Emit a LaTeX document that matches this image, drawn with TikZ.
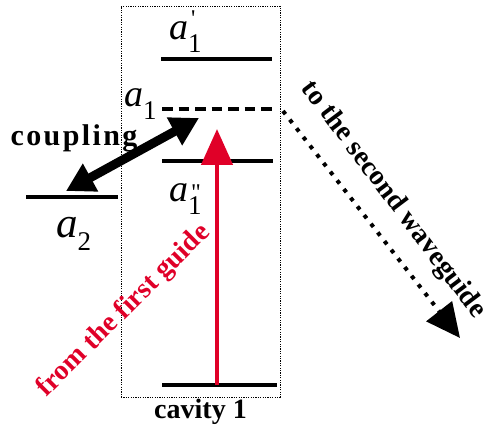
\documentclass[tikz,border=0pt]{standalone}
\usepackage{fontspec}
\setmainfont{Liberation Serif}
\newfontfamily\primefont{Liberation Serif}
\usetikzlibrary{arrows.meta,positioning}
\definecolor{pump}{HTML}{E00028}
\tikzset{
  level/.style={line width=4.5pt},
  dashlevel/.style={line width=4.5pt, dash pattern=on 10.5pt off 6pt},
  cavbox/.style={draw, line width=0.8pt, dash pattern=on 1.2pt off 1.2pt,
                 minimum width=159pt, minimum height=391pt, inner sep=0pt},
  modelbl/.style={inner sep=0pt, anchor=base west, font=\fontsize{38}{38}\selectfont},
  tag/.style={inner sep=0pt, font=\fontsize{28}{30}\selectfont\bfseries},
  pumpflow/.style={-{Triangle[length=36pt,width=31pt]}, line width=4.5pt, pump},
  couple/.style={{Triangle[length=28pt,width=30pt]}-{Triangle[length=28pt,width=30pt]}, line width=9pt},
  outflow/.style={-{Triangle[length=34pt,width=32pt]}, line width=4pt, dash pattern=on 4pt off 7pt},
}
\newcommand{\amode}[3]{\textit{a}\rlap{\kern0.08em\raisebox{#3}{\primefont\fontsize{24}{24}\selectfont#2}}\raisebox{-0.32em}{\fontsize{27}{27}\selectfont#1}}

\begin{document}
\begin{tikzpicture}[x=1pt, y=-1pt, node distance=1pt]
  \useasboundingbox (0,0) rectangle (492,430);
  \node[cavbox] (cav) at (200.5,201.5) {};
  \node[tag, below=of cav] (cavlbl) {cavity 1};

  % energy levels
  \coordinate (up1w) at (161,59);  \coordinate (up1e) at (272,59);
  \coordinate (mid1w) at (162,109); \coordinate (mid1e) at (272,109);
  \coordinate (low1w) at (162,161); \coordinate (low1e) at (273,161);
  \coordinate (lev2w) at (26,197);  \coordinate (lev2e) at (118,197);
  \coordinate (basew) at (162,385); \coordinate (basee) at (277,385);
  \draw[level] (up1w) -- (up1e);
  \draw[dashlevel] (mid1w) -- (mid1e);
  \draw[level] (low1w) -- (low1e);
  \draw[level] (lev2w) -- (lev2e);
  \draw[level] (basew) -- (basee);

  \node[modelbl] (lblup) at (169,40) {\amode{1}{'}{13pt}};
  \node[modelbl] (lblmid) at (124,107) {\amode{1}{}{0pt}};
  \node[modelbl] (lbllow) at (169,202) {\amode{1}{"}{1pt}};
  \node[modelbl, font=\fontsize{43}{43}\selectfont] (lbl2) at (56,237) {\amode{2}{}{0pt}};

  % arrows
  \coordinate (pin) at (217,385); \coordinate (ptip) at (217,129);
  \draw[pumpflow] (pin) -- (ptip);
  \coordinate (cpl2) at (66,191); \coordinate (cpl1) at (199,118);
  \draw[couple] (cpl2) -- (cpl1);
  \coordinate (leak) at (283,111); \coordinate (ltip) at (460,338);
  \draw[outflow] (leak) -- (ltip);

  \node[tag, anchor=base, font=\fontsize{30}{30}\selectfont\bfseries\addfontfeatures{LetterSpace=8}] (cpl) at (74,146) {coupling};
  \node[tag, rotate=-53] (outlbl) at (393,200) {to the second waveguide};
  \node[tag, rotate=45, text=pump] (inlbl) at (124,311) {from the first guide};
\end{tikzpicture}
\end{document}
